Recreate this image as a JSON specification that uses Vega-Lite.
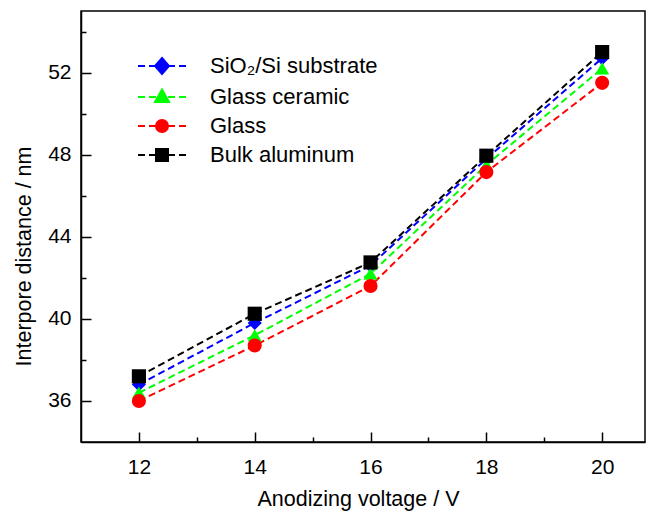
{
  "$schema": "https://vega.github.io/schema/vega-lite/v6.json",
  "width": 564,
  "height": 431,
  "autosize": {"type": "none"},
  "padding": {"left": 81, "top": 11, "right": 2, "bottom": 69},
  "background": "white",
  "config": {
    "view": {"stroke": "black", "strokeWidth": 1.5},
    "font": "Liberation Sans",
    "legend": {
      "orient": "none",
      "legendX": 70,
      "legendY": 44,
      "padding": 0,
      "symbolSize": 400,
      "symbolStrokeWidth": 2,
      "symbolOpacity": 1,
      "labelOffset": 37,
      "rowPadding": 7,
      "labelFontSize": 22,
      "labelFont": "Liberation Sans",
      "labelColor": "black",
      "labelLimit": 400
    }
  },
  "data": {
    "values": [
      {"series": "SiO₂/Si substrate", "voltage": 12, "distance": 36.8},
      {"series": "SiO₂/Si substrate", "voltage": 14, "distance": 39.8},
      {"series": "SiO₂/Si substrate", "voltage": 16, "distance": 42.6},
      {"series": "SiO₂/Si substrate", "voltage": 18, "distance": 47.8},
      {"series": "SiO₂/Si substrate", "voltage": 20, "distance": 52.7},
      {"series": "Glass ceramic", "voltage": 12, "distance": 36.4},
      {"series": "Glass ceramic", "voltage": 14, "distance": 39.2},
      {"series": "Glass ceramic", "voltage": 16, "distance": 42.2},
      {"series": "Glass ceramic", "voltage": 18, "distance": 47.5},
      {"series": "Glass ceramic", "voltage": 20, "distance": 52.2},
      {"series": "Glass", "voltage": 12, "distance": 36.0},
      {"series": "Glass", "voltage": 14, "distance": 38.7},
      {"series": "Glass", "voltage": 16, "distance": 41.6},
      {"series": "Glass", "voltage": 18, "distance": 47.15},
      {"series": "Glass", "voltage": 20, "distance": 51.5},
      {"series": "Bulk aluminum", "voltage": 12, "distance": 37.2},
      {"series": "Bulk aluminum", "voltage": 14, "distance": 40.25},
      {"series": "Bulk aluminum", "voltage": 16, "distance": 42.75},
      {"series": "Bulk aluminum", "voltage": 18, "distance": 47.95},
      {"series": "Bulk aluminum", "voltage": 20, "distance": 53.0}
    ]
  },
  "encoding": {
    "x": {
      "field": "voltage",
      "type": "quantitative",
      "scale": {"domain": [11, 20.74], "nice": false, "zero": false},
      "axis": {
        "title": "Anodizing voltage / V",
        "values": [12, 13, 14, 15, 16, 17, 18, 19, 20],
        "labelExpr": "datum.value % 2 === 0 ? datum.label : ''",
        "grid": false,
        "domainColor": "black",
        "domainWidth": 1.5,
        "tickColor": "black",
        "tickWidth": 1.5,
        "tickSize": {"condition": {"test": "datum.value % 2 === 0", "value": -10}, "value": -5},
        "labelPadding": 24,
        "labelFontSize": 21,
        "labelColor": "black",
        "labelFont": "Liberation Sans",
        "labelFlush": false,
        "titleFontSize": 21.5,
        "titleFont": "Liberation Sans",
        "titleFontWeight": "normal",
        "titleColor": "black",
        "titlePadding": 11,
        "titleX": 277
      }
    },
    "y": {
      "field": "distance",
      "type": "quantitative",
      "scale": {"domain": [34, 55], "nice": false, "zero": false},
      "axis": {
        "title": "Interpore distance / nm",
        "values": [36, 38, 40, 42, 44, 46, 48, 50, 52, 54],
        "labelExpr": "datum.value % 4 === 0 ? datum.label : ''",
        "grid": false,
        "domainColor": "black",
        "domainWidth": 1.5,
        "tickColor": "black",
        "tickWidth": 1.5,
        "tickSize": {"condition": {"test": "datum.value % 4 === 0", "value": -10}, "value": -5},
        "labelPadding": 20,
        "labelFontSize": 21,
        "labelColor": "black",
        "labelFont": "Liberation Sans",
        "labelFlush": false,
        "titleFontSize": 21.5,
        "titleFont": "Liberation Sans",
        "titleFontWeight": "normal",
        "titleColor": "black",
        "titleX": -46,
        "titleY": 245
      }
    }
  },
  "layer": [
    {
      "mark": {"type": "line", "strokeDash": [7, 4], "strokeWidth": 2},
      "encoding": {
        "color": {
          "field": "series",
          "type": "nominal",
          "scale": {
            "domain": ["SiO₂/Si substrate", "Glass ceramic", "Glass", "Bulk aluminum"],
            "range": ["#0000ff", "#00ff00", "#ff0000", "#000000"]
          },
          "legend": null
        }
      }
    },
    {
      "mark": {"type": "point", "filled": true, "opacity": 1, "size": 200},
      "encoding": {
        "color": {
          "field": "series",
          "type": "nominal",
          "scale": {
            "domain": ["SiO₂/Si substrate", "Glass ceramic", "Glass", "Bulk aluminum"],
            "range": ["#0000ff", "#00ff00", "#ff0000", "#000000"]
          },
          "legend": null
        },
        "shape": {
          "field": "series",
          "type": "nominal",
          "scale": {
            "domain": ["SiO₂/Si substrate", "Glass ceramic", "Glass", "Bulk aluminum"],
            "range": ["diamond", "triangle-up", "circle", "square"]
          },
          "legend": null
        }
      }
    },
    {
      "transform": [{"filter": "datum.voltage > 100"}],
      "mark": {"type": "point", "filled": true, "opacity": 1, "strokeWidth": 2},
      "encoding": {
        "color": {
          "field": "series",
          "type": "nominal",
          "scale": {
            "domain": ["SiO₂/Si substrate", "Glass ceramic", "Glass", "Bulk aluminum"],
            "range": ["#0000ff", "#00ff00", "#ff0000", "#000000"]
          },
          "legend": {"title": null}
        },
        "stroke": {
          "field": "series",
          "type": "nominal",
          "scale": {
            "domain": ["SiO₂/Si substrate", "Glass ceramic", "Glass", "Bulk aluminum"],
            "range": ["#0000ff", "#00ff00", "#ff0000", "#000000"]
          },
          "legend": {"title": null}
        },
        "shape": {
          "field": "series",
          "type": "nominal",
          "scale": {
            "domain": ["SiO₂/Si substrate", "Glass ceramic", "Glass", "Bulk aluminum"],
            "range": [
              "M-2.4,0H-1.7M-1.3,0H-0.6M0.6,0H1.3M1.7,0H2.4M0,-0.8L0.7,0L0,0.8L-0.7,0Z",
              "M-2.4,0H-1.7M-1.3,0H-0.6M0.6,0H1.3M1.7,0H2.4M0,-0.75L0.7,0.5L-0.7,0.5Z",
              "M-2.4,0H-1.7M-1.3,0H-0.6M0.6,0H1.3M1.7,0H2.4M-0.6,0A0.6,0.6 0 1,0 0.6,0A0.6,0.6 0 1,0 -0.6,0Z",
              "M-2.4,0H-1.7M-1.3,0H-0.6M0.6,0H1.3M1.7,0H2.4M-0.6,-0.6H0.6V0.6H-0.6Z"
            ]
          },
          "legend": {"title": null}
        }
      }
    }
  ],
  "resolve": {
    "scale": {"color": "independent", "shape": "independent", "stroke": "independent"},
    "legend": {"color": "independent", "shape": "independent", "stroke": "independent"}
  }
}
